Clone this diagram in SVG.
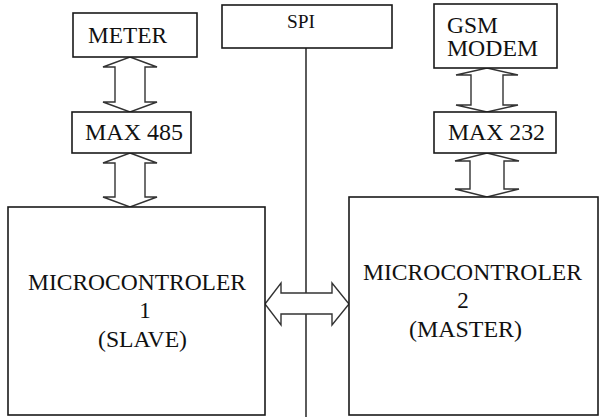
<svg xmlns="http://www.w3.org/2000/svg" width="599" height="417" viewBox="0 0 599 417">
<style>
.box{fill:#fff;stroke:#1a1a1a;stroke-width:1.6}
.arr{fill:#fff;stroke:#333;stroke-width:1.4;stroke-linejoin:miter}
.line{stroke:#333;stroke-width:1.6;fill:none}
.t{fill:#111;font-size:23px;font-family:"Liberation Serif",serif}
.mid{text-anchor:middle}
</style>
<rect width="599" height="417" fill="#fff"/>
<g id="connectors">
<line class="line" x1="306" y1="48" x2="306" y2="417"/>
<path class="arr" d="M130,57 L157,67 L145,67 L145,102 L157,102 L130,112 L103,102 L115,102 L115,67 L103,67 Z"/>
<path class="arr" d="M130,153 L157,163 L145,163 L145,197 L157,197 L130,207 L103,197 L115,197 L115,163 L103,163 Z"/>
<path class="arr" d="M487,68 L518,75 L503,75 L503,105 L518,105 L487,112 L456,105 L471,105 L471,75 L456,75 Z"/>
<path class="arr" d="M487,153 L519,161 L504,161 L504,189 L519,189 L487,197 L455,189 L470,189 L470,161 L455,161 Z"/>
<path class="arr" d="M265,304 L281,283 L281,293 L332,293 L332,283 L349,304 L332,325 L332,314 L281,314 L281,325 Z"/>
</g>
<g id="meter">
<rect class="box" x="73" y="13" width="124" height="44"/>
<text class="t" x="88" y="43" textLength="79" lengthAdjust="spacingAndGlyphs">METER</text>
</g>
<g id="max485">
<rect class="box" x="72" y="112" width="119" height="41"/>
<text class="t" x="85" y="140" textLength="98" lengthAdjust="spacingAndGlyphs">MAX 485</text>
</g>
<g id="spi">
<rect class="box" x="222" y="5" width="170" height="43"/>
<text class="t" x="287" y="28" style="font-size:19px" textLength="28" lengthAdjust="spacingAndGlyphs">SPI</text>
</g>
<g id="gsm">
<rect class="box" x="434" y="4" width="123" height="64"/>
<text class="t" x="447" y="33" textLength="51" lengthAdjust="spacingAndGlyphs">GSM</text>
<text class="t" x="447" y="56" textLength="91" lengthAdjust="spacingAndGlyphs">MODEM</text>
</g>
<g id="max232">
<rect class="box" x="434" y="112" width="122" height="41"/>
<text class="t" x="448" y="140" textLength="97" lengthAdjust="spacingAndGlyphs">MAX 232</text>
</g>
<g id="mcu1">
<rect class="box" x="8" y="207" width="257" height="208"/>
<text class="t" x="28" y="290" textLength="218" lengthAdjust="spacingAndGlyphs">MICROCONTROLER</text>
<text class="t mid" x="145" y="318">1</text>
<text class="t" x="98" y="347" textLength="89" lengthAdjust="spacingAndGlyphs">(SLAVE)</text>
</g>
<g id="mcu2">
<rect class="box" x="349" y="197" width="249" height="218"/>
<text class="t" x="363" y="280" textLength="219" lengthAdjust="spacingAndGlyphs">MICROCONTROLER</text>
<text class="t mid" x="463" y="308">2</text>
<text class="t" x="409" y="337" textLength="113" lengthAdjust="spacingAndGlyphs">(MASTER)</text>
</g>
</svg>
